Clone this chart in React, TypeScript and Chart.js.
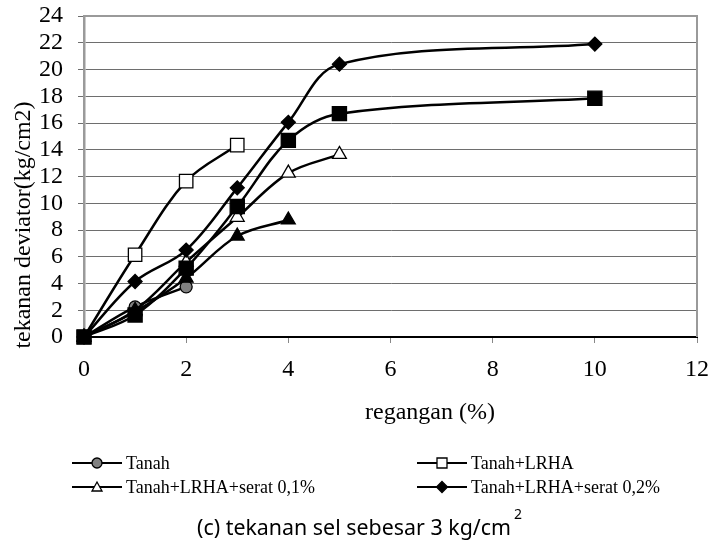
import React, { useEffect, useRef } from 'react';
import { Chart, registerables } from 'chart.js';

Chart.register(...registerables);

// ---- data (regangan %, tekanan deviator kg/cm2) ----
const strainTanah = [0, 1, 2];
const stressTanah = [0, 2.25, 3.75];

const strainLRHA = [0, 1, 2, 3];
const stressLRHA = [0, 6.15, 11.65, 14.35];

const strainSerat01 = [0, 1, 2, 3, 4, 5];
const stressSerat01 = [0, 2.0, 5.6, 8.95, 12.25, 13.65];

const strainSerat02 = [0, 1, 2, 3, 4, 5, 10];
const stressSerat02 = [0, 4.15, 6.5, 11.15, 16.05, 20.4, 21.9];

const strainFilledTri = [0, 1, 2, 3, 4];
const stressFilledTri = [0, 1.9, 4.4, 7.55, 8.75];

const strainFilledSq = [0, 1, 2, 3, 4, 5, 10];
const stressFilledSq = [0, 1.65, 5.15, 9.75, 14.7, 16.7, 17.85];

const legendLabels = ['Tanah', 'Tanah+LRHA', 'Tanah+LRHA+serat 0,1%', 'Tanah+LRHA+serat 0,2%'];
const xTitle = 'regangan (%)';
const yTitle = 'tekanan deviator(kg/cm2)';
const captionMain = '(c) tekanan sel sebesar 3 kg/cm';
const captionSup = '2';

const pts = (xs: number[], ys: number[]) => xs.map((x, i) => ({ x, y: ys[i] }));

const SERIF = '"Liberation Serif", "Times New Roman", serif';

function drawMarker(ctx: CanvasRenderingContext2D, style: string, x: number, y: number, s: number, fill: string) {
  ctx.save();
  ctx.fillStyle = fill;
  ctx.strokeStyle = '#000';
  ctx.lineWidth = 1.3;
  ctx.beginPath();
  if (style === 'circle') {
    ctx.arc(x, y, s, 0, Math.PI * 2);
  } else if (style === 'rect') {
    ctx.rect(x - s, y - s, 2 * s, 2 * s);
  } else if (style === 'triangle') {
    ctx.moveTo(x, y - s);
    ctx.lineTo(x + s, y + s * 0.8);
    ctx.lineTo(x - s, y + s * 0.8);
    ctx.closePath();
  } else if (style === 'rectRot') {
    ctx.moveTo(x, y - s);
    ctx.lineTo(x + s, y);
    ctx.lineTo(x, y + s);
    ctx.lineTo(x - s, y);
    ctx.closePath();
  }
  ctx.fill();
  ctx.stroke();
  ctx.restore();
}

const decorPlugin = {
  id: 'decor',
  afterDraw(chart: any) {
    const ctx: CanvasRenderingContext2D = chart.ctx;
    const a = chart.chartArea;
    ctx.save();
    // top & right border of plot area
    ctx.strokeStyle = '#9a9a9a';
    ctx.lineWidth = 2;
    ctx.beginPath();
    ctx.moveTo(a.left, a.top);
    ctx.lineTo(a.right, a.top);
    ctx.lineTo(a.right, a.bottom);
    ctx.stroke();

    // axis titles
    ctx.fillStyle = '#000';
    ctx.font = `24px ${SERIF}`;
    ctx.textAlign = 'center';
    ctx.textBaseline = 'middle';
    ctx.fillText(xTitle, 430, 413);
    ctx.save();
    ctx.translate(24, 225);
    ctx.rotate(-Math.PI / 2);
    ctx.fillText(yTitle, 0, 0);
    ctx.restore();

    // legend
    const ds = chart.data.datasets;
    const cols = [72, 417];
    const rows = [463, 487];
    for (let i = 0; i < legendLabels.length; i++) {
      const d = ds[i];
      const lx = cols[i % 2];
      const ly = rows[Math.floor(i / 2)];
      ctx.strokeStyle = '#000';
      ctx.lineWidth = 2.2;
      ctx.beginPath();
      ctx.moveTo(lx, ly);
      ctx.lineTo(lx + 50, ly);
      ctx.stroke();
      const sizes: Record<string, number> = { circle: 5, rect: 5, triangle: 5, rectRot: 5.5 };
      drawMarker(ctx, d.pointStyle, lx + 25, ly, sizes[d.pointStyle], d.pointBackgroundColor);
      ctx.fillStyle = '#000';
      ctx.font = `18px ${SERIF}`;
      ctx.textAlign = 'left';
      ctx.textBaseline = 'middle';
      ctx.save();
      ctx.translate(lx + 54, ly + 1);
      ctx.scale(1, 1.1);
      ctx.fillText(d.label, 0, 0);
      ctx.restore();
    }

    // caption
    ctx.font = '20px "Noto Sans", sans-serif';
    ctx.textAlign = 'left';
    ctx.textBaseline = 'alphabetic';
    const w = ctx.measureText(captionMain).width;
    const sx = 314 / w;
    ctx.save();
    ctx.translate(197, 535);
    ctx.scale(sx, 1.05);
    ctx.fillText(captionMain, 0, 0);
    ctx.restore();
    ctx.font = '14px "Noto Sans", sans-serif';
    ctx.fillText(captionSup, 514, 519);
    ctx.restore();
  },
};

const zeroPad = (s: any) => {
  s.paddingTop = 0;
  s.paddingBottom = 0;
  s.paddingLeft = 0;
  s.paddingRight = 0;
};

export default function App() {
  const ref = useRef<HTMLCanvasElement | null>(null);
  useEffect(() => {
    const canvas = ref.current;
    if (!canvas) return;
    const base = {
      borderColor: '#000',
      borderWidth: 2.5,
      pointBorderColor: '#000',
      pointBorderWidth: 1.3,
      tension: 0.35,
      clip: false as any,
      fill: false,
    };
    const chart = new Chart(canvas, {
      type: 'line',
      data: {
        datasets: [
          { ...base, order: 5, label: legendLabels[0], data: pts(strainTanah, stressTanah), pointStyle: 'circle', pointRadius: 6, pointBackgroundColor: '#808080' },
          { ...base, order: 4, label: legendLabels[1], data: pts(strainLRHA, stressLRHA), pointStyle: 'rect', pointRadius: 9.5, pointBackgroundColor: '#ffffff' },
          { ...base, order: 3, label: legendLabels[2], data: pts(strainSerat01, stressSerat01), pointStyle: 'triangle', pointRadius: 8, pointBackgroundColor: '#ffffff' },
          { ...base, order: 2, label: legendLabels[3], data: pts(strainSerat02, stressSerat02), pointStyle: 'rectRot', pointRadius: 7, pointBackgroundColor: '#000000' },
          { ...base, order: 1, label: 'Seri 5', data: pts(strainFilledTri, stressFilledTri), pointStyle: 'triangle', pointRadius: 8, pointBackgroundColor: '#000000' },
          { ...base, order: 0, label: 'Seri 6', data: pts(strainFilledSq, stressFilledSq), pointStyle: 'rect', pointRadius: 10, pointBackgroundColor: '#000000' },
        ] as any,
      },
      options: {
        animation: false,
        responsive: false,
        devicePixelRatio: 1,
        layout: { padding: { left: 0, right: 14, top: 16, bottom: 0 } },
        plugins: { legend: { display: false }, tooltip: { enabled: false }, title: { display: false } },
        scales: {
          x: {
            type: 'linear',
            min: 0,
            max: 12,
            ticks: { stepSize: 2, autoSkip: false, color: '#000', font: { family: SERIF, size: 24 }, padding: 12, maxRotation: 0 },
            grid: { display: true, drawOnChartArea: false, drawTicks: true, tickLength: 6, color: '#888', lineWidth: 1 },
            border: { display: true, color: '#000', width: 2 },
            afterFit: (s: any) => { s.height = 207; zeroPad(s); },
          },
          y: {
            type: 'linear',
            min: 0,
            max: 24,
            ticks: { stepSize: 2, autoSkip: false, color: '#000', font: { family: SERIF, size: 24 }, padding: 15 },
            grid: { display: true, drawOnChartArea: true, drawTicks: true, tickLength: 6, color: (c: any) => (c.tick && c.tick.value === 0 ? 'rgba(0,0,0,0)' : '#6e6e6e'), lineWidth: 1 },
            border: { display: true, color: '#9a9a9a', width: 2.5 },
            afterFit: (s: any) => { s.width = 84; zeroPad(s); },
          },
        } as any,
      },
      plugins: [decorPlugin],
    });
    return () => chart.destroy();
  }, []);
  return (
    <div style={{ position: 'absolute', left: 0, top: 0, width: 711, height: 544, background: '#fff' }}>
      <canvas ref={ref} width={711} height={544} style={{ display: 'block', width: 711, height: 544 }} />
    </div>
  );
}
